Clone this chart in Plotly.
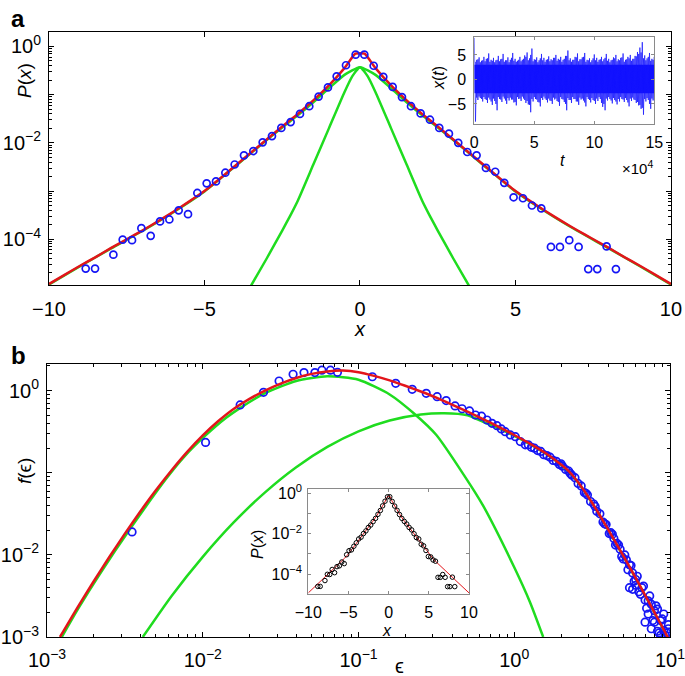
import plotly.graph_objects as go

# ---------------- Panel a data: P(x) ----------------
a_x = [-8.82, -8.52, -7.93, -7.63, -7.33, -7.03, -6.73, -6.43, -6.13, -5.83, -5.53, -5.23,
       -4.93, -4.63, -4.33, -4.03, -3.73, -3.43, -3.13, -2.83, -2.53, -2.23, -1.93, -1.63,
       -1.33, -1.03, -0.75, -0.45, -0.14, 0.14, 0.44, 0.75, 1.05, 1.35, 1.64, 1.95, 2.25,
       2.55, 2.86, 3.16, 3.45, 3.75, 4.05, 4.35, 4.64, 4.94, 5.24, 5.53, 5.83, 6.14, 6.43,
       6.73, 7.03, 7.34, 7.63, 7.93, 8.23]
a_logp = [-4.61, -4.61, -4.32, -4.01, -4.02, -3.77, -3.93, -3.63, -3.59, -3.40, -3.48, -3.04,
          -2.84, -2.80, -2.62, -2.45, -2.26, -2.17, -1.99, -1.86, -1.69, -1.57, -1.40, -1.24,
          -1.04, -0.85, -0.62, -0.39, -0.17, -0.17, -0.40, -0.63, -0.84, -1.05, -1.24, -1.39,
          -1.52, -1.69, -1.81, -2.00, -2.19, -2.26, -2.52, -2.60, -2.83, -3.13, -3.15, -3.30,
          -3.36, -4.16, -4.16, -4.02, -4.16, -4.62, -4.62, -4.15, -4.62]

red_a_x = [-10, -9.5, -9, -8.5, -8, -7.5, -7, -6.5, -6, -5.5, -5, -4.5, -4, -3.5, -3, -2.5,
           -2, -1.5, -1, -0.5, -0.15, 0, 0.15, 0.5, 1, 1.5, 2, 2.5, 3, 3.5, 4, 4.5, 5, 5.5,
           6, 6.5, 7, 7.5, 8, 8.5, 9, 9.5, 10]
red_a_logp = [-4.93, -4.74, -4.55, -4.37, -4.18, -4.00, -3.82, -3.63, -3.43, -3.22, -3.00,
              -2.74, -2.47, -2.20, -1.93, -1.66, -1.40, -1.12, -0.81, -0.45, -0.15, -0.14,
              -0.15, -0.45, -0.81, -1.12, -1.40, -1.66, -1.93, -2.20, -2.47, -2.74, -3.00,
              -3.22, -3.43, -3.63, -3.82, -4.00, -4.18, -4.37, -4.55, -4.74, -4.93]

g1_a_x = [-3.5, -3, -2.5, -2.25, -2, -1.5, -1, -0.5, -0.25, 0, 0.25, 0.5, 1, 1.5, 2, 2.25,
          2.5, 3, 3.5]
g1_a_logp = [-4.96, -4.40, -3.82, -3.52, -3.20, -2.45, -1.70, -0.95, -0.62, -0.43, -0.62,
             -0.95, -1.70, -2.45, -3.20, -3.52, -3.82, -4.40, -4.96]

g2_a_x = [-10, -9, -8, -7, -6, -5, -4, -3, -2.5, -2, -1.5, -1, -0.5, 0, 0.5, 1, 1.5, 2,
          2.5, 3, 4, 5, 6, 7, 8, 9, 10]
g2_a_logp = [-4.94, -4.56, -4.19, -3.83, -3.44, -3.01, -2.48, -1.94, -1.68, -1.43, -1.16,
             -0.87, -0.59, -0.43, -0.59, -0.87, -1.16, -1.43, -1.68, -1.94, -2.48, -3.01,
             -3.44, -3.83, -4.19, -4.56, -4.94]

# inset a: time series envelope x(t), t in units of 1e4
ts_t = [0, 0.2, 0.4, 0.6, 0.8, 1.0, 1.2, 1.4, 1.6, 1.8, 2.0, 2.2, 2.4, 2.6, 2.8, 3.0, 3.2,
        3.4, 3.6, 3.8, 4.0, 4.2, 4.4, 4.6, 4.8, 5.0, 5.2, 5.4, 5.6, 5.8, 6.0, 6.2, 6.4, 6.6,
        6.8, 7.0, 7.2, 7.4, 7.6, 7.8, 8.0, 8.2, 8.4, 8.6, 8.8, 9.0, 9.2, 9.4, 9.6, 9.8, 10.0,
        10.2, 10.4, 10.6, 10.8, 11.0, 11.2, 11.4, 11.6, 11.8, 12.0, 12.2, 12.4, 12.6, 12.8,
        13.0, 13.2, 13.4, 13.6, 13.8, 14.0, 14.2, 14.4, 14.6, 14.8, 15.0]
ts_top = [8.5, 4.0, 4.5, 3.8, 4.6, 4.2, 5.3, 4.0, 4.4, 3.9, 4.8, 4.1, 5.2, 3.9, 4.5, 4.0,
          5.4, 4.2, 3.8, 4.6, 4.0, 4.9, 5.5, 4.3, 6.3, 4.1, 4.5, 3.9, 5.2, 4.4, 4.0, 4.7,
          4.1, 4.4, 5.0, 4.2, 4.6, 4.0, 4.8, 5.9, 4.3, 4.0, 4.6, 5.3, 4.1, 4.5, 5.4, 4.0,
          4.3, 3.9, 5.1, 4.4, 4.0, 4.6, 4.1, 5.2, 4.2, 3.9, 4.5, 5.0, 4.1, 4.4, 5.3, 4.0,
          4.6, 5.0, 4.2, 4.8, 5.6, 6.5, 7.6, 4.9, 4.3, 5.4, 4.2, 4.6]
ts_bot = [-8.6, -4.2, -3.8, -4.5, -4.0, -4.8, -4.1, -5.2, -4.4, -6.3, -4.0, -4.6, -3.9,
          -5.0, -4.3, -4.1, -4.7, -5.3, -4.0, -4.4, -3.9, -4.8, -5.1, -6.7, -4.5, -4.0,
          -4.6, -5.5, -4.2, -3.9, -4.7, -4.3, -5.0, -4.1, -4.4, -5.4, -4.0, -4.6, -6.3,
          -4.2, -4.8, -4.0, -4.5, -5.2, -4.1, -4.3, -5.5, -4.0, -4.7, -4.2, -5.0, -4.4,
          -4.0, -5.6, -6.3, -4.3, -4.0, -4.9, -4.2, -5.1, -4.5, -4.0, -4.6, -4.2, -5.5,
          -4.4, -4.1, -4.8, -5.3, -6.0, -7.2, -4.5, -4.2, -6.0, -4.3, -4.8]
ts_t2 = [0.1, 0.3, 0.5, 0.7, 0.9, 1.1, 1.3, 1.5, 1.7, 1.9, 2.1, 2.3, 2.5, 2.7, 2.9, 3.1,
         3.3, 3.5, 3.7, 3.9, 4.1, 4.3, 4.5, 4.7, 4.9, 5.1, 5.3, 5.5, 5.7, 5.9, 6.1, 6.3, 6.5,
         6.7, 6.9, 7.1, 7.3, 7.5, 7.7, 7.9, 8.1, 8.3, 8.5, 8.7, 8.9, 9.1, 9.3, 9.5, 9.7, 9.9,
         10.1, 10.3, 10.5, 10.7, 10.9, 11.1, 11.3, 11.5, 11.7, 11.9, 12.1, 12.3, 12.5, 12.7,
         12.9, 13.1, 13.3, 13.5, 13.7, 13.9, 14.1, 14.3, 14.5, 14.7, 14.9]
ts_top2 = [3.6, 4.1, 3.5, 3.9, 3.7, 4.3, 3.6, 3.8, 3.5, 4.0, 3.7, 4.2, 3.6, 3.9, 3.5, 4.4,
           3.8, 3.6, 4.0, 3.7, 4.2, 4.6, 3.9, 5.0, 3.7, 4.0, 3.5, 4.3, 3.9, 3.6, 4.1, 3.7,
           3.9, 4.4, 3.8, 4.0, 3.6, 4.2, 4.8, 3.9, 3.6, 4.0, 4.5, 3.7, 4.1, 4.6, 3.6, 3.9,
           3.5, 4.3, 3.9, 3.6, 4.1, 3.7, 4.4, 3.8, 3.5, 4.0, 4.3, 3.7, 3.9, 4.5, 3.6, 4.1,
           4.3, 3.8, 4.2, 4.7, 5.2, 5.5, 4.3, 3.9, 4.6, 3.8, 4.0]
ts_bot2 = [-3.7, -3.5, -4.0, -3.6, -4.2, -3.7, -4.5, -3.9, -5.0, -3.6, -4.1, -3.5, -4.3,
           -3.8, -3.7, -4.1, -4.6, -3.6, -3.9, -3.5, -4.2, -4.4, -5.2, -4.0, -3.6, -4.1,
           -4.7, -3.8, -3.5, -4.2, -3.9, -4.4, -3.7, -3.9, -4.6, -3.6, -4.1, -5.0, -3.8,
           -4.2, -3.6, -4.0, -4.5, -3.7, -3.9, -4.7, -3.6, -4.2, -3.8, -4.4, -3.9, -3.6,
           -4.8, -5.0, -3.9, -3.6, -4.3, -3.8, -4.5, -4.0, -3.6, -4.1, -3.8, -4.7, -3.9,
           -3.7, -4.2, -4.6, -5.2, -5.8, -4.0, -3.8, -5.0, -3.9, -4.2]
core_t = [0, 15]
core_hi = [3.0, 3.0]
core_lo = [-2.8, -2.8]

# ---------------- Panel b data: f(eps) (log10 values) ----------------
b_logeps = [-2.454, -1.982, -1.76, -1.61, -1.51, -1.42, -1.35, -1.28, -1.235, -1.18, -1.135,
            -0.911, -0.761, -0.655, -0.565, -0.495, -0.437, -0.38, -0.335, -0.287, -0.249,
            -0.21, -0.175, -0.143, -0.111, -0.083, -0.058, -0.025, 0.007, 0.039, 0.071,
            0.09, 0.11, 0.13, 0.15, 0.17, 0.19, 0.21, 0.23, 0.25, 0.27, 0.29, 0.31, 0.33,
            0.35, 0.37, 0.39, 0.41, 0.43, 0.45, 0.47, 0.49, 0.51, 0.53, 0.55, 0.57, 0.59,
            0.61, 0.63, 0.65, 0.67, 0.69, 0.71, 0.73, 0.75, 0.77, 0.79, 0.81, 0.83, 0.85,
            0.87, 0.89, 0.91, 0.93, 0.95, 0.97, 0.99,
            0.30, 0.36, 0.46, 0.52, 0.58, 0.62, 0.64, 0.66, 0.68, 0.70, 0.72, 0.74, 0.76,
            0.78, 0.74, 0.76, 0.78, 0.80, 0.82, 0.84, 0.84, 0.86, 0.86, 0.88, 0.88, 0.90,
            0.90, 0.92, 0.92, 0.94, 0.94, 0.96, 0.96, 0.98, 0.99]
b_logf = [-1.72, -0.63, -0.174, -0.02, 0.118, 0.20, 0.22, 0.22, 0.25, 0.25, 0.224,
          0.17, 0.09, 0.017, -0.032, -0.073, -0.12, -0.186, -0.22, -0.247, -0.296,
          -0.31, -0.357, -0.397, -0.426, -0.466, -0.499, -0.539, -0.56, -0.62, -0.66,
          -0.66, -0.69, -0.70, -0.73, -0.74, -0.78, -0.79, -0.81, -0.85, -0.86, -0.90,
          -0.92, -0.96, -0.98, -1.03, -1.06, -1.13, -1.16, -1.24, -1.27, -1.35, -1.38,
          -1.47, -1.50, -1.60, -1.63, -1.74, -1.75, -1.88, -1.88, -2.02, -2.00, -2.18,
          -2.13, -2.32, -2.26, -2.48, -2.38, -2.65, -2.50, -2.80, -2.62, -2.95, -2.78,
          -2.98, -2.90,
          -0.89, -1.01, -1.25, -1.41, -1.62, -1.73, -1.80, -1.86, -1.93, -2.05, -2.06,
          -2.40, -2.42, -2.37, -2.12, -2.22, -2.30, -2.45, -2.40, -2.82, -2.55, -2.56,
          -2.72, -2.90, -2.60, -2.68, -2.82, -2.66, -2.93, -2.80, -2.98, -2.92, -2.72,
          -2.95, -2.85]

red_b_logeps = [-2.917, -2.8, -2.7, -2.6, -2.5, -2.4, -2.3, -2.2, -2.1, -2.0, -1.9, -1.8,
                -1.7, -1.6, -1.5, -1.4, -1.3, -1.2, -1.1, -1.0, -0.9, -0.8, -0.7, -0.6,
                -0.5, -0.4, -0.3, -0.2, -0.1, 0.0, 0.1, 0.2, 0.3, 0.35, 0.4, 0.45, 0.5, 0.55,
                0.6, 0.65, 0.7, 0.75, 0.8, 0.85, 0.9, 0.95, 0.99]
red_b_logf = [-3.0, -2.626, -2.321, -2.026, -1.741, -1.469, -1.211, -0.969, -0.745, -0.545,
              -0.37, -0.22, -0.10, 0.0, 0.085, 0.155, 0.205, 0.235, 0.245, 0.225, 0.18,
              0.125, 0.06, -0.01, -0.085, -0.17, -0.255, -0.345, -0.44, -0.54, -0.645,
              -0.76, -0.90, -0.98, -1.09, -1.22, -1.365, -1.52, -1.68, -1.845, -2.01,
              -2.18, -2.35, -2.525, -2.70, -2.875, -3.02]

g1_b_logeps = [-2.905, -2.8, -2.66, -2.454, -2.234, -2.117, -1.982, -1.85, -1.764, -1.6,
               -1.4, -1.2, -1.0, -0.8, -0.638, -0.5, -0.324, -0.2, 0.0, 0.1, 0.186]
g1_b_logf = [-3.0, -2.655, -2.23, -1.65, -1.07, -0.80, -0.545, -0.33, -0.215, -0.03, 0.118,
             0.175, 0.133, -0.046, -0.287, -0.54, -1.025, -1.40, -2.15, -2.57, -3.0]

g2_b_logeps = [-2.385, -2.2, -2.0, -1.8, -1.6, -1.4, -1.2, -1.0, -0.8, -0.6, -0.45, -0.3,
               -0.2, -0.1, 0.0, 0.1, 0.2, 0.3, 0.4, 0.5, 0.6, 0.7, 0.8, 0.9, 0.99]
g2_b_logf = [-3.0, -2.50, -2.024, -1.602, -1.238, -0.932, -0.685, -0.495, -0.364, -0.291,
             -0.275, -0.30, -0.38, -0.46, -0.55, -0.65, -0.765, -0.905, -1.095, -1.37,
             -1.685, -2.015, -2.355, -2.705, -3.025]

# ---------------- Figure ----------------
W, H = 685, 676
FONT = "Liberation Sans, Arial, Helvetica, sans-serif"
RED = "#e3151b"
GREEN = "#1fdc1f"
BLUE = "#1515f5"


def pw(a, b):
    return [a / W, b / W]


def ph(top, bottom):
    return [1 - bottom / H, 1 - top / H]


def p10(vals):
    return [10 ** v for v in vals]


fig = go.Figure()

# panel a
for gx, gy in [(g1_a_x, g1_a_logp), (g2_a_x, g2_a_logp)]:
    fig.add_trace(go.Scatter(x=gx, y=p10(gy), mode="lines",
                             line=dict(color=GREEN, width=2.5, shape="spline", smoothing=0.5),
                             xaxis="x", yaxis="y", showlegend=False))
fig.add_trace(go.Scatter(x=red_a_x, y=p10(red_a_logp), mode="lines",
                         line=dict(color=RED, width=2.5, shape="spline", smoothing=0.5),
                         xaxis="x", yaxis="y", showlegend=False))
fig.add_trace(go.Scatter(x=a_x, y=p10(a_logp), mode="markers",
                         marker=dict(symbol="circle-open", size=7, color=BLUE,
                                     line=dict(width=1.7, color=BLUE)),
                         xaxis="x", yaxis="y", showlegend=False))

# inset a: time series
fig.add_trace(go.Scatter(x=[c * 1e4 for c in core_t], y=core_lo, mode="lines",
                         line=dict(color="#1010ff", width=0), xaxis="x3", yaxis="y3",
                         showlegend=False))
fig.add_trace(go.Scatter(x=[c * 1e4 for c in core_t], y=core_hi, mode="lines",
                         line=dict(color="#1010ff", width=0), fill="tonexty",
                         fillcolor="#1010ff", xaxis="x3", yaxis="y3", showlegend=False))
for tt, hi_l, lo_l in [(ts_t, ts_top, ts_bot), (ts_t2, ts_top2, ts_bot2)]:
    zz_t, zz_v = [], []
    for t, hi, lo in zip(tt, hi_l, lo_l):
        zz_t += [t * 1e4, (t + 0.1) * 1e4]
        zz_v += [hi, lo]
    fig.add_trace(go.Scatter(x=zz_t, y=zz_v, mode="lines",
                             line=dict(color="rgba(20,20,255,0.8)", width=0.9),
                             xaxis="x3", yaxis="y3", showlegend=False))

# panel b
for gx, gy in [(g1_b_logeps, g1_b_logf), (g2_b_logeps, g2_b_logf)]:
    fig.add_trace(go.Scatter(x=p10(gx), y=p10(gy), mode="lines",
                             line=dict(color=GREEN, width=2.5, shape="spline", smoothing=0.6),
                             xaxis="x2", yaxis="y2", showlegend=False))
fig.add_trace(go.Scatter(x=p10(b_logeps), y=p10(b_logf), mode="markers",
                         marker=dict(symbol="circle-open", size=7.5, color=BLUE,
                                     line=dict(width=1.7, color=BLUE)),
                         xaxis="x2", yaxis="y2", showlegend=False))
fig.add_trace(go.Scatter(x=p10(red_b_logeps), y=p10(red_b_logf), mode="lines",
                         line=dict(color=RED, width=2.5, shape="spline", smoothing=0.6),
                         xaxis="x2", yaxis="y2", showlegend=False))

# inset b
fig.add_trace(go.Scatter(x=red_a_x, y=p10(red_a_logp), mode="lines",
                         line=dict(color=RED, width=1),
                         xaxis="x4", yaxis="y4", showlegend=False))
fig.add_trace(go.Scatter(x=a_x, y=p10(a_logp), mode="markers",
                         marker=dict(symbol="circle-open", size=4.5, color="black",
                                     line=dict(width=1, color="black")),
                         xaxis="x4", yaxis="y4", showlegend=False))


def minor_log(lo, hi):
    return [m * 10 ** d for d in range(lo, hi) for m in range(2, 10)]


base_ax = dict(showline=True, linecolor="black", linewidth=1, mirror="ticks",
               ticks="inside", ticklen=5, tickcolor="black", showgrid=False,
               zeroline=False, automargin=False, ticklabeloverflow="allow",
               tickfont=dict(family=FONT, size=20, color="black"))
inset_ax = dict(showline=True, linecolor="#8a8a8a", linewidth=1, mirror="ticks",
                ticks="inside", ticklen=3, tickcolor="#8a8a8a", showgrid=False,
                zeroline=False, automargin=False, ticklabeloverflow="allow",
                tickfont=dict(family=FONT, size=16, color="black"))


def sup(e):
    return "10<sup>%s</sup>" % e


fig.update_layout(
    width=W, height=H, margin=dict(l=0, r=0, t=0, b=0, autoexpand=False),
    paper_bgcolor="white", plot_bgcolor="white", showlegend=False,
    xaxis=dict(base_ax, domain=pw(49, 671), anchor="y", range=[-10, 10.001],
               tickvals=[-10, -5, 0, 5, 10], ticktext=["−10", "−5", "0", "5", "10"],
               ticklabelstandoff=6),
    yaxis=dict(base_ax, domain=ph(32, 285), anchor="x", type="log", range=[-4.95, 0.30],
               tickvals=[1e-4, 1e-3, 1e-2, 1e-1, 1],
               ticktext=[sup("−4"), "", sup("−2"), "", sup("0")], ticklabelstandoff=3,
               minor=dict(ticks="inside", ticklen=3, tickcolor="black",
                          tickvals=minor_log(-5, 1))),
    xaxis2=dict(base_ax, domain=pw(47, 670), anchor="y2", type="log", range=[-3.0002, 1.0002],
                tickvals=[1e-3, 1e-2, 1e-1, 1, 10],
                ticktext=[sup("−3"), sup("−2"), sup("−1"), sup("0"), sup("1")],
                ticklabelstandoff=5,
                minor=dict(ticks="inside", ticklen=3, tickcolor="black",
                           tickvals=minor_log(-3, 1))),
    yaxis2=dict(base_ax, domain=ph(364, 637), anchor="x2", type="log", range=[-3.0002, 0.325],
                tickvals=[1e-3, 1e-2, 1e-1, 1],
                ticktext=[sup("−3"), sup("−2"), "", sup("0")], ticklabelstandoff=3,
                minor=dict(ticks="inside", ticklen=3, tickcolor="black",
                           tickvals=minor_log(-3, 1))),
    xaxis3=dict(inset_ax, domain=pw(474.3, 654.3), anchor="y3", range=[0, 15.001e4],
                tickvals=[0, 5e4, 10e4, 15e4], ticktext=["0", "5", "10", "15"],
                ticklabelstandoff=4),
    yaxis3=dict(inset_ax, domain=ph(37.3, 124), anchor="x3", range=[-9.1, 8.6],
                tickvals=[-5, 0, 5], ticktext=["−5", "0", "5"], ticklabelstandoff=4),
    xaxis4=dict(inset_ax, domain=pw(308.3, 469), anchor="y4", range=[-10.001, 10.001],
                tickvals=[-10, -5, 0, 5, 10], ticktext=["−10", "−5", "0", "5", "10"],
                ticklabelstandoff=3),
    yaxis4=dict(inset_ax, domain=ph(489.3, 594.3), anchor="x4", type="log",
                range=[-5.0, 0.2], tickvals=[1e-4, 1e-3, 1e-2, 1e-1, 1],
                ticktext=[sup("−4"), "", sup("−2"), "", sup("0")], ticklabelstandoff=2),
)


def ann(text, px, py, size=19, angle=0, bold=False):
    fig.add_annotation(text=("<b>%s</b>" % text) if bold else text,
                       x=px / W, y=1 - py / H, xref="paper", yref="paper",
                       showarrow=False, textangle=angle, xanchor="center", yanchor="middle",
                       font=dict(family=FONT, size=size, color="black"))


ann("a", 18, 18, size=24, bold=True)
ann("b", 18, 355, size=24, bold=True)
ann("<i>P</i>(<i>x</i>)", 25, 80, size=19, angle=-90)
ann("<i>x</i>", 360, 329, size=20)
ann("<i>f</i>(ϵ)", 25, 471, size=19, angle=-90)
ann("ϵ", 400, 666, size=20)
ann("<i>x</i>(<i>t</i>)", 438, 78, size=16, angle=-90)
ann("<i>t</i>", 562, 160, size=16)
ann("×10<sup>4</sup>", 637, 168, size=15)
ann("<i>P</i>(<i>x</i>)", 257, 545, size=16, angle=-90)
ann("<i>x</i>", 387, 630, size=16)

fig.write_html("out.html", config={"displayModeBar": False},
               post_script="document.body.style.margin='0px';"
                           "document.body.style.overflow='hidden';")
